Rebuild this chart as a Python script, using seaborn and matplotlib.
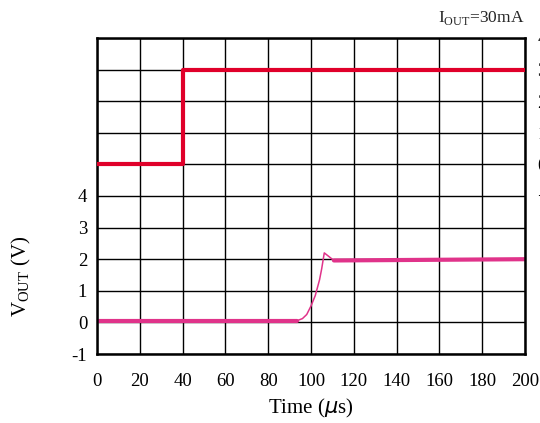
import matplotlib
matplotlib.use("Agg")
import matplotlib.pyplot as plt
import seaborn as sns

sns.set_theme(style="white")
plt.rcParams['font.family'] = ['Liberation Serif', 'DejaVu Serif']
plt.rcParams['mathtext.fontset'] = 'custom'
plt.rcParams['mathtext.rm'] = 'Liberation Serif'
plt.rcParams['mathtext.it'] = 'DejaVu Sans:italic'

# Data
vin_t = [0, 40, 40, 200]
vin_v = [0, 0, 3, 3]           # right-axis units
vout_t_a = [0, 93.3]
vout_v_a = [0.03, 0.03]
vout_t_curve = [93.3, 96, 98, 100, 102, 104, 105, 106.2, 110.7]
vout_v_curve = [0.05, 0.12, 0.25, 0.52, 0.85, 1.35, 1.7, 2.2, 1.96]
vout_t_b = [110.7, 200]
vout_v_b = [1.96, 2.0]
x_ticks = [0, 20, 40, 60, 80, 100, 120, 140, 160, 180, 200]
left_ticks = [-1, 0, 1, 2, 3, 4]
right_ticks = [-1, 0, 1, 2, 3, 4]

fig = plt.figure(figsize=(5.4, 4.23), dpi=100)
ax = fig.add_axes([97/540, 1-354/423, (525-97)/540, (354-38)/423])

ax.set_xlim(0, 200)
ax.set_ylim(-1, 9)
ax.set_xticks(x_ticks)
ax.set_yticks(range(-1, 10))
ax.set_yticklabels([str(v) if v in left_ticks else "" for v in range(-1, 10)])
ax.grid(True, color='black', linewidth=1.0)
ax.tick_params(axis='y', length=0, labelsize=13.5, colors='black', pad=7)
ax.tick_params(axis='x', length=0, labelsize=13.5, colors='black', pad=14)
for s in ax.spines.values():
    s.set_color('black')
    s.set_linewidth(1.8)

kw = dict(ax=ax, color='#e0338a', sort=False, estimator=None)
sns.lineplot(x=vout_t_a, y=vout_v_a, linewidth=3, **kw)
sns.lineplot(x=vout_t_curve, y=vout_v_curve, linewidth=1.1, **kw)
sns.lineplot(x=vout_t_b, y=vout_v_b, linewidth=3, **kw)

ax2 = ax.twinx()
ax2.set_ylim(-6, 4)
ax2.set_yticks(right_ticks)
ax2.tick_params(length=0, labelsize=13.5, colors='black', pad=9)
for s in ax2.spines.values():
    s.set_visible(False)
sns.lineplot(x=vin_t, y=vin_v, ax=ax2, color='#e0002a', linewidth=3,
             sort=False, estimator=None)
ax2.set_xlim(0, 200)
ax2.grid(False)

ax.set_xlabel(r"Time ($\mu$s)", fontsize=15, color='black', labelpad=5)
ax.set_ylabel(r"V$_{\mathrm{OUT}}$ (V)", fontsize=15, color='black')
ax.yaxis.set_label_coords(-0.15, 0.245)
fig.text(525/540, 1-18/423, r"I$_{\mathrm{OUT}}$=30mA", ha='right', va='center', fontsize=12.5)

fig.savefig("out.png", dpi=100)
